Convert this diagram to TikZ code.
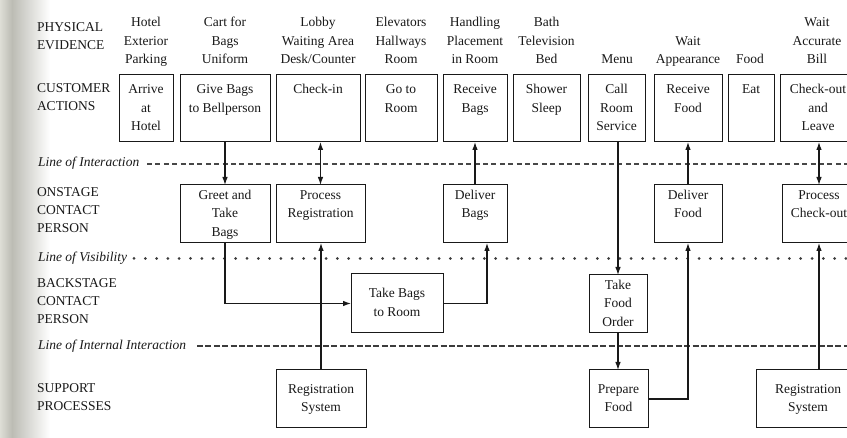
\documentclass[tikz,border=0pt]{standalone}
\usepackage{fontspec}
\setmainfont{Liberation Serif}
\usetikzlibrary{arrows.meta}
\definecolor{ink}{RGB}{25,25,25}
\definecolor{bindA}{RGB}{222,222,214}
\definecolor{bindB}{RGB}{188,188,180}

\begin{document}
\begin{tikzpicture}[x=1pt,y=-1pt,
  every node/.style={inner sep=0pt, outer sep=0pt, text=ink,
    font=\fontsize{13.5}{18.5}\selectfont},
  box/.style={draw=ink, line width=1pt, align=center, anchor=north west},
  ev/.style={align=center, anchor=south},
  lane/.style={align=left, anchor=north west, font=\fontsize{13.5}{18}\selectfont},
  sep/.style={anchor=base west, font=\fontsize{13.5}{18.5}\selectfont\itshape},
  tip/.style={Latex[length=8pt,width=5.6pt]},
  arr/.style={draw=ink, line width=1.2pt, -{Latex[length=8pt,width=5.6pt]}},
  darr/.style={draw=ink, line width=1.2pt,
    {Latex[length=8pt,width=5.6pt]}-{Latex[length=8pt,width=5.6pt]}},
  dashline/.style={draw=ink!80, line width=1.1pt, dash pattern=on 5pt off 3.4pt},
  denseline/.style={draw=ink!85, line width=1.1pt, dash pattern=on 6pt off 2.4pt},
  dotline/.style={draw=ink!85, line width=3pt, line cap=round,
    dash pattern=on 0pt off 11.3pt}
]
\useasboundingbox (0,0) rectangle (847,438);
\clip (0,0) rectangle (847,438);
\fill[white] (0,0) rectangle (847,438);

% shadow along the bound edge of the page
\shade[left color=bindA, right color=bindB] (0,0) rectangle (12,438);
\shade[left color=bindB, right color=white] (12,0) rectangle (50,438);

% lane headings
\node[lane] (lPE) at (37,19)    {\strut PHYSICAL\\EVIDENCE};
\node[lane] (lCA) at (37,80)    {\strut CUSTOMER\\ACTIONS};
\node[lane] (lOS) at (37,183.5) {\strut ONSTAGE\\CONTACT\\PERSON};
\node[lane] (lBS) at (37,275)   {\strut BACKSTAGE\\CONTACT\\PERSON};
\node[lane] (lSP) at (37,380)   {\strut SUPPORT\\PROCESSES};

% separating lines
\node[sep] (sI)  at (38,167)   {Line of Interaction};
\node[sep] (sV)  at (38,262)   {Line of Visibility};
\node[sep] (sII) at (38,349.5) {Line of Internal Interaction};
\coordinate (iA) at (147,164);   \coordinate (iB) at (847,164);
\coordinate (vA) at (134,258.5); \coordinate (vB) at (847,258.5);
\coordinate (nA) at (197,346);   \coordinate (nB) at (847,346);
\draw[dashline]  (iA) -- (iB);
\draw[dotline]   (vA) -- (vB);
\draw[denseline] (nA) -- (nB);

% physical evidence
\node[ev] (pe1)  at (146,69.5)   {\strut Hotel\\Exterior\\Parking\strut};
\node[ev] (pe2)  at (225,69.5)   {\strut Cart for\\Bags\\Uniform\strut};
\node[ev] (pe3)  at (318,69.5)   {\strut Lobby\\Waiting Area\\Desk/Counter\strut};
\node[ev] (pe4)  at (401,69.5)   {\strut Elevators\\Hallways\\Room\strut};
\node[ev] (pe5)  at (475,69.5)   {\strut Handling\\Placement\\in Room\strut};
\node[ev] (pe6)  at (546.5,69.5) {\strut Bath\\Television\\Bed\strut};
\node[ev] (pe7)  at (617,69.5)   {\strut Menu\strut};
\node[ev] (pe8)  at (688,69.5)   {\strut Wait\\Appearance\strut};
\node[ev] (pe9)  at (750,69.5)   {\strut Food\strut};
\node[ev] (pe10) at (817,69.5)   {\strut Wait\\Accurate\\Bill\strut};

% customer actions
\node[box, minimum width=54pt, minimum height=67pt] (ca1)  at (119,75) {\strut Arrive\\at\\Hotel\strut};
\node[box, minimum width=90pt, minimum height=67pt] (ca2)  at (180,75) {\strut Give Bags\\to Bellperson\\\strut};
\node[box, minimum width=84pt, minimum height=67pt] (ca3)  at (276,75) {\strut Check-in\\\strut\\\strut};
\node[box, minimum width=72pt, minimum height=67pt] (ca4)  at (365,75) {\strut Go to\\Room\\\strut};
\node[box, minimum width=64pt, minimum height=67pt] (ca5)  at (443,75) {\strut Receive\\Bags\\\strut};
\node[box, minimum width=67pt, minimum height=67pt] (ca6)  at (513,75) {\strut Shower\\Sleep\\\strut};
\node[box, minimum width=57pt, minimum height=67pt] (ca7)  at (588,75) {\strut Call\\Room\\Service\strut};
\node[box, minimum width=68pt, minimum height=67pt] (ca8)  at (654,75) {\strut Receive\\Food\\\strut};
\node[box, minimum width=46pt, minimum height=67pt] (ca9)  at (728,75) {\strut Eat\\\strut\\\strut};
\node[box, minimum width=76pt, minimum height=67pt] (ca10) at (780,75) {\strut Check-out\\and\\Leave\strut};

% onstage contact person
\node[box, minimum width=90pt, minimum height=58pt] (os1) at (180,185) {\strut Greet and\\Take\\Bags\strut};
\node[box, minimum width=89pt, minimum height=58pt] (os2) at (276,185) {\strut Process\\Registration\\\strut};
\node[box, minimum width=64pt, minimum height=58pt] (os3) at (443,185) {\strut Deliver\\Bags\\\strut};
\node[box, minimum width=68pt, minimum height=58pt] (os4) at (654,185) {\strut Deliver\\Food\\\strut};
\node[box, minimum width=74pt, minimum height=58pt] (os5) at (782,185) {\strut Process\\Check-out\\\strut};

% backstage contact person
\node[box, minimum width=92pt, minimum height=59pt] (bs1) at (351,274) {\strut Take Bags\\to Room\strut};
\node[box, minimum width=58pt, minimum height=58pt] (bs2) at (589,275) {\strut Take\\Food\\Order\strut};

% support processes
\node[box, minimum width=90pt,  minimum height=58pt] (sp1) at (276,370) {\strut Registration\\System\strut};
\node[box, minimum width=59pt,  minimum height=58pt] (sp2) at (589,370) {\strut Prepare\\Food\strut};
\node[box, minimum width=104pt, minimum height=58pt] (sp3) at (756,370) {\strut Registration\\System\strut};

% flows
\draw[arr]  (ca2) -- (os1);
\draw[arr]  (os1.south) |- (bs1.west);
\draw[arr]  (bs1.east) -| ([xshift=12pt]os3.south);
\draw[arr]  (os3) -- (ca5);
\draw[darr] (os2.north) -- (os2.north |- ca3.south);
\draw[arr]  (sp1.north) -- (sp1.north |- os2.south);
\draw[arr]  (ca7.south -| bs2.north) -- (bs2.north);
\draw[arr]  (bs2.south) -- (bs2.south |- sp2.north);
\draw[arr]  (sp2.east) -| (os4.south);
\draw[arr]  (os4) -- (ca8);
\draw[darr] (os5.north) -- (os5.north |- ca10.south);
\draw[arr]  (os5.south |- sp3.north) -- (os5.south);
\end{tikzpicture}
\end{document}
